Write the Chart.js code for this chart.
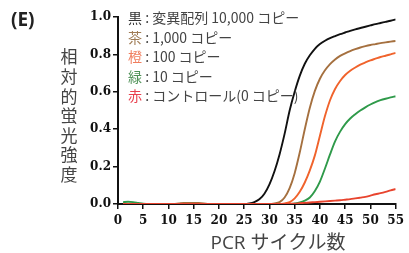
<!DOCTYPE html>
<html><head><meta charset="utf-8">
<script src="https://cdn.jsdelivr.net/npm/chart.js@4.4.1/dist/chart.umd.min.js"></script>
<style>html,body{margin:0;padding:0;background:#fff;}#wrap{width:409px;height:253px;position:relative;}</style>
</head><body><div id="wrap"><canvas id="c" width="409" height="253"></canvas></div>
<script>
const cycles = Array.from({length:55},(_, i)=>i+1);
const black = [0,0,0,0,0,0,0,0,0,0,0,0,0,0,0,0,0,0,0,0,0,0,0,0,0,0.003,0.01,0.025,0.055,0.105,0.175,0.265,0.375,0.5,0.6,0.685,0.75,0.795,0.83,0.855,0.873,0.887,0.898,0.908,0.917,0.926,0.934,0.941,0.948,0.955,0.962,0.968,0.974,0.98,0.987];
const brown = [0,0,0,0,0,0,0,0,0,0,0,0.003,0.006,0.006,0.006,0.005,0.003,0,0,0,0,0,0,0,0,0,0,0,0,0,0.003,0.01,0.035,0.085,0.165,0.275,0.4,0.515,0.605,0.67,0.715,0.748,0.773,0.792,0.806,0.818,0.828,0.837,0.844,0.85,0.855,0.86,0.864,0.868,0.872];
const orange = [0,0,0,0,0,0,0,0,0,0,0,0,0,0,0,0,0,0,0,0,0,0,0,0,0,0,0,0,0,0,0,0,0.003,0.01,0.03,0.065,0.115,0.18,0.26,0.365,0.47,0.555,0.615,0.658,0.69,0.713,0.73,0.745,0.757,0.768,0.777,0.786,0.793,0.8,0.808];
const green = [0.01,0.012,0.01,0.006,0.002,0,0,0,0,0,0,0,0,0,0,0,0,0,0,0,0,0,0,0,0,0,0,0,0,0,0,0,0,0,0.003,0.008,0.018,0.035,0.07,0.12,0.19,0.265,0.335,0.387,0.427,0.457,0.48,0.5,0.517,0.532,0.545,0.555,0.563,0.57,0.576];
const red = [0,0,0,0,0,0,0,0,0,0,0,0,0,0,0,0,0,0,0,0,0,0,0,0,0,0,0,0,0,0,0,0,0,0.001,0.002,0.004,0.006,0.008,0.01,0.012,0.014,0.016,0.018,0.02,0.023,0.026,0.03,0.034,0.038,0.045,0.052,0.058,0.065,0.073,0.08];
const yTickLabels = ['0.0','0.2','0.4','0.6','0.8','1.0'];
const xTickLabels = ['0','5','10','15','20','25','30','35','40','45','50','55'];
const legendRows = [
  {key:'黒', rest:' : 変異配列 10,000 コピー', color:'#333333'},
  {key:'茶', rest:' : 1,000 コピー', color:'#a07c55'},
  {key:'橙', rest:' : 100 コピー', color:'#f07e5e'},
  {key:'緑', rest:' : 10 コピー', color:'#4f9157'},
  {key:'赤', rest:' : コントロール(0 コピー)', color:'#e8404e'}
];
const yTitle = '相対的蛍光強度';
const xTitle = 'PCR サイクル数';
const panelLabel = '(E)';

const pts = arr => cycles.map((c,i)=>({x:c,y:arr[i]}));
const mk = (arr,color)=>({data:pts(arr),borderColor:color,borderWidth:1.9,pointRadius:0,tension:0.4,cubicInterpolationMode:'monotone',fill:false});

const textPlugin = {
  id:'texts',
  afterDraw(chart){
    const ctx = chart.ctx;
    ctx.save();
    ctx.fillStyle = '#222';
    ctx.font = 'bold 19px "Open Sans"';
    ctx.textBaseline = 'middle';
    ctx.textAlign = 'left';
    ctx.fillText(panelLabel, 11, 21);
    // y title stacked
    ctx.fillStyle = '#444';
    ctx.font = '17px "Noto Sans CJK JP"';
    ctx.textAlign = 'center';
    const chars = Array.from(yTitle);
    chars.forEach((ch,i)=>ctx.fillText(ch, 69, 57 + i*19.6));
    // x title
    ctx.font = '19px "Open Sans", "Noto Sans CJK JP"';
    ctx.fillText(xTitle, 278, 244);
    // legend
    ctx.textAlign = 'left';
    ctx.font = '14px "Noto Sans CJK JP"';
    legendRows.forEach((r,i)=>{
      const y = 18 + i*19.4;
      ctx.fillStyle = r.color;
      ctx.fillText(r.key, 128, y);
      const w = ctx.measureText(r.key).width;
      ctx.fillStyle = '#444';
      ctx.fillText(r.rest, 128 + w, y);
    });
    ctx.restore();
  }
};

new Chart(document.getElementById('c'), {
  type:'line',
  data:{datasets:[mk(red,'#e8442e'),mk(green,'#2f9a4a'),mk(orange,'#f0632c'),mk(brown,'#a5703f'),mk(black,'#111111')]},
  options:{
    responsive:false, animation:false,
    layout:{padding:{top:17,right:8,left:0,bottom:0}},
    plugins:{legend:{display:false},tooltip:{enabled:false}},
    scales:{
      x:{type:'linear',min:0,max:55,
        afterFit(s){s.height=49;},
        ticks:{stepSize:5,autoSkip:false,color:'#111',padding:5,font:{family:'"DejaVu Serif"',weight:'bold',size:12},callback:(v)=>xTickLabels[Math.round(v/5)]},
        grid:{display:true,drawOnChartArea:false,drawTicks:true,tickLength:5,color:'#111',lineWidth:1.5},
        border:{display:true,color:'#111',width:2}},
      y:{min:0,max:1,
        afterFit(s){s.width=118;},
        ticks:{stepSize:0.2,color:'#111',padding:2,font:{family:'"DejaVu Serif"',weight:'bold',size:12},callback:(v)=>yTickLabels[Math.round(v*5)]},
        grid:{display:true,drawOnChartArea:false,drawTicks:true,tickLength:5,color:'#111',lineWidth:1.5},
        border:{display:true,color:'#111',width:2}}
    }
  },
  plugins:[textPlugin]
});
</script></body></html>
